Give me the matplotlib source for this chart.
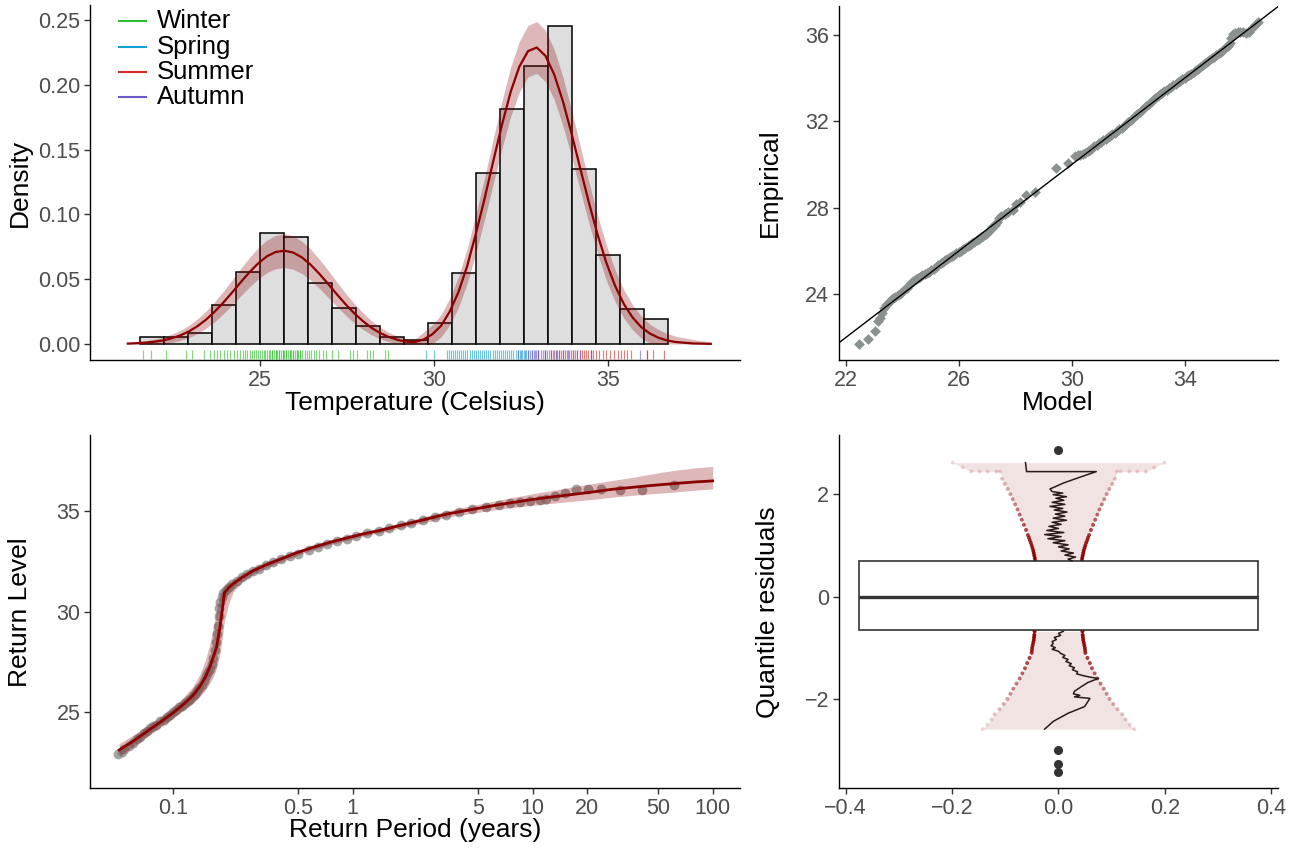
import numpy as np
import matplotlib.pyplot as plt
import matplotlib.lines as mlines
from matplotlib.ticker import NullLocator

plt.rcParams["font.family"] = ["Liberation Sans", "DejaVu Sans"]

# ---------- top left: histogram + fitted density ----------
bin_edges = [21.55, 22.24, 22.93, 23.62, 24.31, 25.00, 25.68, 26.37, 27.06, 27.75, 28.44,
             29.13, 29.82, 30.51, 31.20, 31.89, 32.58, 33.26, 33.95, 34.64, 35.33, 36.02, 36.71]
bin_density = [0.0056, 0.0052, 0.0082, 0.0303, 0.0553, 0.0854, 0.0828, 0.0468, 0.0275, 0.0139, 0.0052,
               0.0028, 0.0165, 0.0551, 0.1322, 0.1816, 0.2145, 0.2451, 0.1348, 0.0689, 0.0273, 0.0190]

dens_x = [21.20, 21.45, 21.70, 21.95, 22.20, 22.45, 22.70, 22.95, 23.20, 23.45, 23.70, 23.95,
          24.20, 24.45, 24.70, 24.95, 25.20, 25.45, 25.70, 25.95, 26.20, 26.45, 26.70, 26.95,
          27.20, 27.45, 27.70, 27.95, 28.20, 28.45, 28.70, 28.95, 29.20, 29.45, 29.70, 29.95,
          30.20, 30.45, 30.70, 30.95, 31.20, 31.45, 31.70, 31.95, 32.20, 32.45, 32.70, 32.95,
          33.20, 33.45, 33.70, 33.95, 34.20, 34.45, 34.70, 34.95, 35.20, 35.45, 35.70, 35.95,
          36.20, 36.45, 36.70, 36.95, 37.45, 37.95]
dens_y = [0.0003, 0.0006, 0.0010, 0.0017, 0.0027, 0.0043, 0.0065, 0.0096, 0.0137, 0.0188,
          0.0250, 0.0321, 0.0398, 0.0478, 0.0555, 0.0623, 0.0677, 0.0710, 0.0720, 0.0706,
          0.0669, 0.0613, 0.0543, 0.0466, 0.0386, 0.0309, 0.0239, 0.0178, 0.0125, 0.0085,
          0.0054, 0.0032, 0.0018, 0.0015, 0.0035, 0.0075, 0.0140, 0.0250, 0.0400, 0.0600,
          0.0850, 0.1120, 0.1410, 0.1690, 0.1945, 0.2140, 0.2260, 0.2288, 0.2224, 0.2081,
          0.1875, 0.1625, 0.1356, 0.1090, 0.0843, 0.0627, 0.0450, 0.0310, 0.0206, 0.0131,
          0.0081, 0.0048, 0.0027, 0.0015, 0.0004, 0.0001]
dens_lo = [0.0000, 0.0000, 0.0000, 0.0000, 0.0002, 0.0011, 0.0026, 0.0049, 0.0080, 0.0122,
           0.0173, 0.0234, 0.0301, 0.0372, 0.0441, 0.0502, 0.0551, 0.0581, 0.0590, 0.0577,
           0.0544, 0.0493, 0.0430, 0.0361, 0.0291, 0.0224, 0.0164, 0.0113, 0.0071, 0.0040,
           0.0018, 0.0005, 0.0000, 0.0000, 0.0000, 0.0003, 0.0054, 0.0147, 0.0281, 0.0466,
           0.0701, 0.0959, 0.1237, 0.1507, 0.1755, 0.1944, 0.2061, 0.2088, 0.2026, 0.1887,
           0.1687, 0.1445, 0.1185, 0.0930, 0.0695, 0.0491, 0.0327, 0.0200, 0.0109, 0.0046,
           0.0008, 0.0000, 0.0000, 0.0000, 0.0000, 0.0000]
dens_hi = [0.0011, 0.0018, 0.0025, 0.0037, 0.0052, 0.0075, 0.0104, 0.0143, 0.0194, 0.0254,
           0.0327, 0.0408, 0.0495, 0.0584, 0.0669, 0.0744, 0.0803, 0.0839, 0.0850, 0.0835,
           0.0794, 0.0733, 0.0656, 0.0571, 0.0481, 0.0394, 0.0314, 0.0243, 0.0179, 0.0130,
           0.0090, 0.0059, 0.0040, 0.0037, 0.0092, 0.0147, 0.0226, 0.0353, 0.0519, 0.0734,
           0.0999, 0.1281, 0.1583, 0.1873, 0.2135, 0.2336, 0.2459, 0.2488, 0.2422, 0.2275,
           0.2063, 0.1805, 0.1527, 0.1250, 0.0991, 0.0763, 0.0573, 0.0420, 0.0303, 0.0216,
           0.0154, 0.0111, 0.0080, 0.0059, 0.0034, 0.0015]

rug_winter = [21.65, 21.86, 22.29, 22.86, 23.05, 23.38, 23.57, 23.67, 23.77, 23.86, 23.96, 24.05,
              24.15, 24.24, 24.34, 24.43, 24.52, 24.58, 24.64, 24.70, 24.76, 24.82, 24.88, 24.94,
              25.00, 25.05, 25.10, 25.15, 25.20, 25.25, 25.30, 25.35, 25.35, 25.40, 25.45, 25.45,
              25.50, 25.55, 25.55, 25.60, 25.65, 25.65, 25.70, 25.75, 25.75, 25.80, 25.85, 25.85,
              25.90, 25.95, 25.95, 26.00, 26.05, 26.05, 26.10, 26.16, 26.16, 26.22, 26.28, 26.34,
              26.40, 26.47, 26.54, 26.62, 26.70, 26.80, 26.90, 27.06, 27.25, 27.59, 27.68, 27.78,
              28.06, 28.16, 28.25, 28.59, 28.68]
rug_spring = [29.77, 30.00, 30.36, 30.42, 30.48, 30.54, 30.60, 30.66, 30.72, 30.78, 30.84, 30.90,
              30.96, 31.02, 31.08, 31.14, 31.20, 31.26, 31.32, 31.38, 31.44, 31.50, 31.56, 31.62,
              31.68, 31.74, 31.80, 31.86, 31.92, 31.98, 32.04, 32.10, 32.16, 32.22, 32.28, 32.34,
              32.40, 32.46, 32.52, 32.58, 32.64, 32.70, 32.80, 32.90, 33.00, 33.20, 33.50, 34.10, 34.50]
rug_summer = [33.00, 33.20, 33.35, 33.45, 33.52, 33.58, 33.64, 33.70, 33.76, 33.82, 33.88, 33.94,
              34.00, 34.06, 34.12, 34.18, 34.24, 34.30, 34.36, 34.42, 34.50, 34.58, 34.66, 34.75,
              34.85, 34.95, 35.05, 35.18, 35.28, 35.36, 35.45, 35.55, 35.65, 36.11, 36.11, 36.30, 36.61]
rug_autumn = [32.40, 32.50, 32.60, 32.70, 32.76, 32.82, 32.88, 32.94, 33.00, 33.06, 33.12, 33.18,
              33.24, 33.30, 33.36, 33.42, 33.50, 33.60, 33.70, 33.85, 34.00, 34.20, 34.50, 35.92]

seasons = ["Winter", "Spring", "Summer", "Autumn"]
season_rugs = [rug_winter, rug_spring, rug_summer, rug_autumn]
season_colors = ["#2EBE2E", "#10A2D2", "#D42A2A", "#6A5ACD"]

# ---------- top right: QQ ----------
qq_model = [22.45, 22.77, 23.00, 23.13, 23.20, 23.28, 23.35, 23.42, 23.50, 23.58, 23.66, 23.74,
            23.82, 23.90, 23.98, 24.06, 24.14, 24.22, 24.30, 24.38, 24.46, 24.54, 24.62, 24.70,
            24.78, 24.86, 24.94, 25.02, 25.10, 25.18, 25.26, 25.34, 25.42, 25.50, 25.58, 25.66,
            25.74, 25.82, 25.90, 25.98, 26.06, 26.14, 26.22, 26.30, 26.38, 26.46, 26.54, 26.62,
            26.70, 26.78, 26.86, 26.94, 27.02, 27.10, 27.18, 27.26, 27.33, 27.40, 27.50, 27.62,
            27.75, 27.90, 28.02, 28.15, 28.38, 28.68, 29.45, 29.86, 30.10, 30.20, 30.30, 30.40,
            30.48, 30.56, 30.64, 30.72, 30.80, 30.88, 30.96, 31.04, 31.12, 31.20, 31.28, 31.36,
            31.44, 31.52, 31.60, 31.68, 31.76, 31.84, 31.92, 32.00, 32.08, 32.16, 32.24, 32.32,
            32.40, 32.48, 32.56, 32.64, 32.72, 32.80, 32.88, 32.96, 33.04, 33.12, 33.20, 33.28,
            33.36, 33.44, 33.52, 33.60, 33.68, 33.76, 33.84, 33.92, 34.00, 34.08, 34.16, 34.24,
            34.32, 34.40, 34.48, 34.56, 34.64, 34.72, 34.80, 34.88, 34.96, 35.04, 35.12, 35.20,
            35.28, 35.36, 35.44, 35.52, 35.60, 35.66, 35.72, 35.80, 35.88, 35.96, 36.06, 36.18,
            36.28, 36.40, 36.50, 36.60]
qq_emp = [21.68, 21.90, 22.29, 22.75, 22.90, 23.10, 23.35, 23.50, 23.62, 23.72, 23.80, 23.87,
          23.94, 24.00, 24.07, 24.16, 24.28, 24.40, 24.52, 24.60, 24.68, 24.74, 24.80, 24.86,
          24.92, 24.98, 25.04, 25.10, 25.16, 25.24, 25.32, 25.42, 25.50, 25.57, 25.63, 25.70,
          25.76, 25.82, 25.88, 25.94, 26.00, 26.06, 26.12, 26.20, 26.27, 26.34, 26.42, 26.49,
          26.56, 26.63, 26.70, 26.78, 26.88, 26.98, 27.08, 27.20, 27.35, 27.52, 27.62, 27.70,
          27.78, 27.90, 28.15, 28.28, 28.60, 28.72, 29.85, 30.06, 30.40, 30.43, 30.46, 30.50,
          30.55, 30.62, 30.68, 30.76, 30.84, 30.92, 30.99, 31.06, 31.13, 31.19, 31.26, 31.33,
          31.40, 31.47, 31.55, 31.63, 31.71, 31.80, 31.88, 31.97, 32.06, 32.15, 32.24, 32.33,
          32.43, 32.53, 32.62, 32.72, 32.80, 32.88, 32.97, 33.06, 33.15, 33.24, 33.33, 33.40,
          33.47, 33.54, 33.60, 33.66, 33.73, 33.80, 33.87, 33.94, 34.01, 34.08, 34.14, 34.21,
          34.28, 34.36, 34.44, 34.52, 34.60, 34.68, 34.76, 34.84, 34.92, 35.00, 35.08, 35.16,
          35.23, 35.30, 35.38, 35.48, 35.62, 35.85, 36.05, 36.10, 36.13, 36.14, 36.12, 36.11,
          36.13, 36.30, 36.48, 36.62]

# ---------- bottom left: return levels ----------
rl_period = [0.0505, 0.06, 0.0717, 0.085, 0.1007, 0.115, 0.13, 0.142, 0.152, 0.161, 0.169, 0.1755,
             0.1832, 0.1896, 0.1936, 0.205, 0.2173, 0.245, 0.2808, 0.335, 0.395, 0.48, 0.604, 0.75,
             0.926, 1.15, 1.42, 1.75, 2.17, 2.7, 3.33, 4.1, 5.09, 6.3, 7.8, 9.7, 11.96, 14.8, 18.3,
             22.8, 28.1, 35, 43, 53, 65.8, 81, 100]
rl_level = [23.13, 23.55, 24.04, 24.5, 24.98, 25.4, 25.85, 26.3, 26.75, 27.26, 27.8, 28.25, 29.24,
            30.23, 30.92, 31.2, 31.39, 31.72, 32.04, 32.35, 32.6, 32.9, 33.2, 33.45, 33.66, 33.87,
            34.04, 34.24, 34.44, 34.65, 34.85, 35.0, 35.15, 35.3, 35.43, 35.56, 35.67, 35.77, 35.87,
            35.98, 36.09, 36.17, 36.25, 36.32, 36.39, 36.45, 36.5]
rl_hi = [23.45, 23.85, 24.3, 24.75, 25.25, 25.75, 26.3, 26.9, 27.6, 28.4, 29.3, 30.1, 30.8, 31.15,
         31.3, 31.45, 31.6, 31.9, 32.2, 32.5, 32.75, 33.03, 33.32, 33.57, 33.78, 33.99, 34.16, 34.37,
         34.58, 34.8, 35.01, 35.18, 35.35, 35.52, 35.68, 35.84, 35.98, 36.12, 36.26, 36.4, 36.53,
         36.66, 36.8, 36.94, 37.06, 37.15, 37.22]
rl_lo = [22.85, 23.27, 23.78, 24.25, 24.72, 25.1, 25.45, 25.8, 26.1, 26.45, 26.8, 27.2, 27.9, 28.8,
         29.5, 30.4, 31.0, 31.5, 31.87, 32.2, 32.45, 32.76, 33.08, 33.33, 33.54, 33.75, 33.92, 34.11,
         34.3, 34.5, 34.69, 34.82, 34.95, 35.08, 35.18, 35.28, 35.36, 35.44, 35.52, 35.6, 35.7,
         35.77, 35.84, 35.9, 35.97, 36.04, 36.1]

obs_period = [0.050, 0.052, 0.054, 0.057, 0.060, 0.063, 0.066, 0.069, 0.072, 0.075, 0.078, 0.081,
              0.085, 0.089, 0.093, 0.097, 0.101, 0.105, 0.109, 0.113, 0.117, 0.121, 0.125, 0.129,
              0.133, 0.137, 0.141, 0.145, 0.149, 0.153, 0.157, 0.161, 0.165, 0.168, 0.171, 0.1735,
              0.176, 0.178, 0.180, 0.182, 0.184, 0.187, 0.191, 0.197, 0.205, 0.215, 0.228, 0.243,
              0.26, 0.28, 0.30, 0.33, 0.36, 0.40, 0.45, 0.50, 0.57, 0.64, 0.72, 0.82, 0.93, 1.05,
              1.2, 1.4, 1.6, 1.85, 2.1, 2.45, 2.85, 3.3, 3.9, 4.6, 5.5, 6.5, 7.5, 8.5, 9.65, 11.0,
              11.9, 13.3, 15.1, 17.4, 20.3, 24.1, 30.5, 40.7, 61.1]
obs_level = [22.95, 23.05, 23.2, 23.35, 23.5, 23.68, 23.78, 23.95, 24.05, 24.2, 24.3, 24.38, 24.55,
             24.62, 24.75, 24.88, 25.0, 25.12, 25.25, 25.32, 25.45, 25.55, 25.68, 25.8, 25.92, 26.05,
             26.2, 26.35, 26.55, 26.8, 27.0, 27.15, 27.4, 27.7, 28.1, 28.5, 28.9, 29.3, 29.8, 30.2,
             30.5, 30.75, 30.95, 31.1, 31.25, 31.4, 31.55, 31.7, 31.85, 32.0, 32.12, 32.3, 32.45,
             32.6, 32.75, 32.88, 33.05, 33.2, 33.35, 33.5, 33.63, 33.78, 33.9, 34.02, 34.15, 34.3,
             34.4, 34.55, 34.7, 34.82, 34.95, 35.08, 35.22, 35.32, 35.42, 35.45, 35.51, 35.56, 35.59,
             35.76, 35.92, 36.09, 36.09, 36.09, 36.04, 36.07, 36.29]

# ---------- bottom right: quantile residuals ----------
box_q1, box_med, box_q3 = -0.663, -0.01, 0.697
resid_outliers = [2.86, -2.99, -3.28, -3.43]

band_up_y = [0.70, 0.75, 0.80, 0.85, 0.90, 0.95, 1.00, 1.05, 1.10, 1.15, 1.20, 1.30, 1.40, 1.50,
             1.60, 1.70, 1.80, 1.90, 2.00, 2.10, 2.20, 2.30, 2.44, 2.44, 2.44, 2.44, 2.44, 2.52, 2.615]
band_up_hw = [0.0440, 0.0445, 0.0455, 0.0465, 0.0475, 0.0490, 0.0505, 0.0520, 0.0540, 0.0555,
              0.0575, 0.0610, 0.0650, 0.0690, 0.0730, 0.0770, 0.0815, 0.0860, 0.0905, 0.0955,
              0.1010, 0.1060, 0.1100, 0.1170, 0.1330, 0.1480, 0.1640, 0.1800, 0.1990]
band_dn_y = [-0.68, -0.75, -0.80, -0.85, -0.90, -0.95, -1.00, -1.05, -1.10, -1.20, -1.30, -1.40,
             -1.50, -1.60, -1.70, -1.80, -1.90, -2.00, -2.10, -2.20, -2.30, -2.40, -2.50, -2.59]
band_dn_hw = [0.0450, 0.0455, 0.0460, 0.0465, 0.0475, 0.0485, 0.0495, 0.0500, 0.0505, 0.0545,
              0.0590, 0.0630, 0.0680, 0.0730, 0.0790, 0.0850, 0.0905, 0.0960, 0.1030, 0.1110,
              0.1200, 0.1260, 0.1340, 0.1426]

worm_up_x = [-0.062, -0.060, 0.071, 0.040, 0.010, -0.016, -0.012, 0.008, -0.010, 0.015, -0.005,
             0.010, -0.012, 0.012, -0.016, 0.008, -0.008, 0.016, -0.006, 0.012, -0.010, 0.015,
             -0.012, 0.005, -0.018, 0.000, -0.022, 0.010, -0.026, 0.005, -0.020, 0.012, -0.010,
             0.018, 0.000, 0.020, 0.005, 0.028, 0.012, 0.032, 0.018, 0.025]
worm_up_y = [2.615, 2.44, 2.44, 2.33, 2.22, 2.10, 2.05, 2.02, 1.99, 1.95, 1.92, 1.88, 1.84, 1.80,
             1.76, 1.72, 1.69, 1.65, 1.61, 1.57, 1.53, 1.49, 1.45, 1.41, 1.37, 1.33, 1.29, 1.25,
             1.21, 1.17, 1.13, 1.09, 1.05, 1.01, 0.97, 0.93, 0.89, 0.85, 0.81, 0.77, 0.73, 0.70]
worm_dn_x = [0.009, 0.000, 0.004, -0.008, -0.004, -0.012, -0.010, -0.014, -0.006, -0.012, 0.000,
             0.004, 0.012, 0.008, 0.018, 0.014, 0.024, 0.020, 0.030, 0.026, 0.036, 0.034, 0.048,
             0.062, 0.075, 0.055, 0.043, 0.030, 0.028, 0.040, 0.030, 0.059, 0.049, 0.018, -0.010,
             -0.026]
worm_dn_y = [-0.68, -0.72, -0.76, -0.80, -0.84, -0.88, -0.92, -0.96, -1.00, -1.03, -1.07, -1.11,
             -1.15, -1.19, -1.23, -1.27, -1.31, -1.35, -1.39, -1.43, -1.47, -1.51, -1.55, -1.58,
             -1.60, -1.68, -1.76, -1.85, -1.90, -1.93, -1.96, -1.99, -2.15, -2.28, -2.44, -2.59]

DARKRED = "#8B0000"
TICK_FS = 15.5
TITLE_FS = 19


def style_axes(ax):
    for side in ["top", "right"]:
        ax.spines[side].set_visible(False)
    for side in ["left", "bottom"]:
        ax.spines[side].set_linewidth(1.0)
        ax.spines[side].set_color("black")
    ax.tick_params(axis="both", length=4, width=1, color="#333333",
                   labelcolor="#4D4D4D", labelsize=TICK_FS, pad=3)


fig = plt.figure(figsize=(13, 8.5), dpi=100)


def px_axes(left, top, right, bottom):
    return fig.add_axes([left / 1300, 1 - bottom / 850, (right - left) / 1300, (bottom - top) / 850])


# top left
ax1 = px_axes(90, 5, 740, 360)
ax1.bar(bin_edges[:-1], bin_density, width=np.diff(bin_edges), align="edge",
        color="#DEDEDE", edgecolor="black", linewidth=1.1, zorder=1)
ax1.fill_between(dens_x, dens_lo, dens_hi, color=DARKRED, alpha=0.28, linewidth=0, zorder=2)
ax1.plot(dens_x, dens_y, color=DARKRED, lw=1.6, zorder=3)
for vals, col in zip(season_rugs, season_colors):
    ax1.vlines(vals, -0.0118, -0.0046, colors=col, alpha=0.6, lw=0.85, zorder=2)
ax1.set_xlim(20.115, 38.79)
ax1.set_ylim(-0.01235, 0.2616)
ax1.set_xticks([25, 30, 35])
ax1.set_yticks([0, 0.05, 0.10, 0.15, 0.20, 0.25])
ax1.set_yticklabels(["0.00", "0.05", "0.10", "0.15", "0.20", "0.25"])
style_axes(ax1)

legend_rows = [20.7, 46.7, 71.7, 97.3]
for name, col, ypx in zip(seasons, season_colors, legend_rows):
    fig.add_artist(mlines.Line2D([119 / 1300, 146 / 1300], [1 - ypx / 850] * 2,
                                 color=col, lw=1.5, transform=fig.transFigure))
    fig.text(157 / 1300, 1 - ypx / 850, name, fontsize=TITLE_FS - 0.5, va="center", ha="left")

# top right
ax2 = px_axes(839, 6, 1278, 360)
ax2.scatter(qq_model, qq_emp, marker="D", s=30, color="#8A918E", linewidths=0, zorder=2)
ax2.axline((22, 22), (36, 36), color="black", lw=1.0, zorder=3)
ax2.set_xlim(21.74, 37.31)
ax2.set_ylim(20.94, 37.34)
ax2.set_xticks([22, 26, 30, 34])
ax2.set_yticks([24, 28, 32, 36])
style_axes(ax2)

# bottom left
ax3 = px_axes(90, 435, 740, 788)
ax3.scatter(obs_period, obs_level, s=50, color="#7F7F7F", alpha=0.7, linewidths=0, zorder=1)
ax3.fill_between(rl_period, rl_lo, rl_hi, color=DARKRED, alpha=0.28, linewidth=0, zorder=2)
ax3.plot(rl_period, rl_level, color=DARKRED, lw=2.0, zorder=3)
ax3.set_xscale("log")
ax3.set_xlim(0.03475, 141.9)
ax3.set_ylim(21.24, 38.78)
ax3.set_xticks([0.1, 0.5, 1, 5, 10, 20, 50, 100])
ax3.set_xticklabels(["0.1", "0.5", "1", "5", "10", "20", "50", "100"])
ax3.xaxis.set_minor_locator(NullLocator())
ax3.set_yticks([25, 30, 35])
style_axes(ax3)

# bottom right
ax4 = px_axes(839, 435, 1278, 788)
for ys, hws in [(band_up_y, band_up_hw), (band_dn_y, band_dn_hw)]:
    ys = np.array(ys)
    hws = np.array(hws)
    ax4.fill_betweenx(ys, -hws, hws, color=DARKRED, alpha=0.11, linewidth=0, zorder=1)
    alphas = np.clip(1.0 - (np.abs(ys) - 0.7) * 0.48, 0.15, 0.95)
    for side in [-1, 1]:
        ax4.scatter(side * hws, ys, s=8, color=DARKRED, alpha=alphas, linewidths=0, zorder=2)
ax4.bxp([{"med": box_med, "q1": box_q1, "q3": box_q3, "whislo": box_q1, "whishi": box_q3,
          "fliers": resid_outliers}],
        positions=[0], widths=0.75, showcaps=False, patch_artist=True,
        boxprops=dict(facecolor="white", edgecolor="#333333", linewidth=1.2),
        medianprops=dict(color="#333333", linewidth=2.4),
        whiskerprops=dict(linewidth=0),
        flierprops=dict(marker="o", markerfacecolor="#333333", markeredgecolor="#333333",
                        markersize=5.5),
        zorder=3)
ax4.plot(worm_up_x, worm_up_y, color="#2B1A1A", lw=1.1, zorder=4)
ax4.plot(worm_dn_x, worm_dn_y, color="#2B1A1A", lw=1.1, zorder=4)
ax4.set_xlim(-0.4125, 0.4125)
ax4.set_ylim(-3.74, 3.155)
ax4.set_xticks([-0.4, -0.2, 0.0, 0.2, 0.4])
ax4.set_xticklabels(["\u22120.4", "\u22120.2", "0.0", "0.2", "0.4"])
ax4.set_yticks([-2, 0, 2])
ax4.set_yticklabels(["\u22122", "0", "2"])
style_axes(ax4)

# axis titles
def title_at(x, y, s, rot=0):
    fig.text(x / 1300, 1 - y / 850, s, fontsize=TITLE_FS, ha="center", va="center", rotation=rot)

title_at(415, 403, "Temperature (Celsius)")
title_at(20, 183, "Density", 90)
title_at(1058, 403, "Model")
title_at(770, 183, "Empirical", 90)
title_at(415, 830, "Return Period (years)")
title_at(20, 612, "Return Level", 90)
title_at(768, 612, "Quantile residuals", 90)

fig.savefig("out.png", dpi=100)
